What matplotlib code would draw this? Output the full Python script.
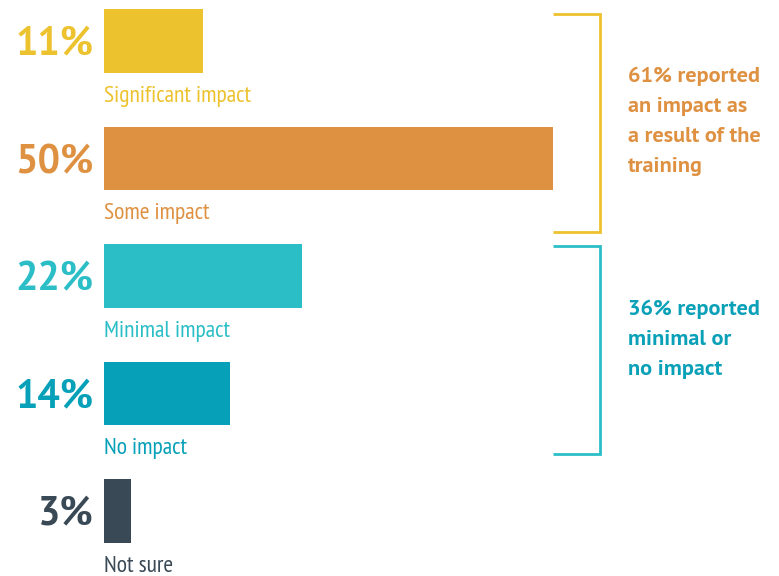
import matplotlib
matplotlib.use("Agg")
import matplotlib.pyplot as plt
from matplotlib import font_manager

categories = ["Significant impact", "Some impact", "Minimal impact", "No impact", "Not sure"]
values = [11, 50, 22, 14, 3]
pct_labels = ["11%", "50%", "22%", "14%", "3%"]
bar_colors = ["#EDC22F", "#DF9142", "#2CBEC6", "#06A0B8", "#394955"]
label_colors = ["#EDC22F", "#DF9142", "#2CBEC6", "#06A0B8", "#394955"]

group_lines = [["61% reported", "an impact as", "a result of the", "training"],
               ["36% reported", "minimal or", "no impact"]]
group_colors = ["#DF9142", "#0AA0B8"]
bracket_colors = ["#EDC22F", "#2CBEC6"]

names = {f.name for f in font_manager.fontManager.ttflist}
narrow = "PT Sans Narrow" if "PT Sans Narrow" in names else "DejaVu Sans"
bold_font = "PT Sans" if "PT Sans" in names else "DejaVu Sans"

W, H = 779, 576
fig = plt.figure(figsize=(W / 100, H / 100), dpi=100)
ax = fig.add_axes([0, 0, 1, 1])

# horizontal scale: 0% at x=104px, 50% at x=553px
px_per_pct = 449 / 50.0
x0 = 104
ax.set_xlim(-x0 / px_per_pct, (W - x0) / px_per_pct)
row = 117.5
top = 41
ax.set_ylim((H - top) / row, -top / row)
ax.axis("off")

ys = list(range(len(values)))
ax.barh(ys, values, height=0.54, color=bar_colors, left=0)

for y, p, c, lc, cat in zip(ys, pct_labels, bar_colors, label_colors, categories):
    ax.text(-1.2, y + 0.125, p, ha="right", va="baseline", fontsize=28.5, fontweight="bold",
            family=bold_font, color=c)
    ax.text(0, y + 0.515, cat, ha="left", va="baseline", fontsize=17,
            family=narrow, color=lc)

# group brackets
spans = [(-0.23, 1.626), (1.745, 3.515)]
xb0, xb1 = 50, (600 - x0) / px_per_pct
for (ya, yb), bc in zip(spans, bracket_colors):
    ax.plot([xb0, xb1, xb1, xb0], [ya, ya, yb, yb], color=bc, lw=2,
            solid_joinstyle="miter", solid_capstyle="butt")

text_x = (628 - x0) / px_per_pct
first_baseline = [(82 - top) / row, (315 - top) / row]
line_step = 30 / row
for lines, yb, gc in zip(group_lines, first_baseline, group_colors):
    for i, line in enumerate(lines):
        ax.text(text_x, yb + i * line_step, line, ha="left", va="baseline", fontsize=16,
                fontweight="bold", family=bold_font, color=gc)

fig.savefig("out.png", dpi=100)
